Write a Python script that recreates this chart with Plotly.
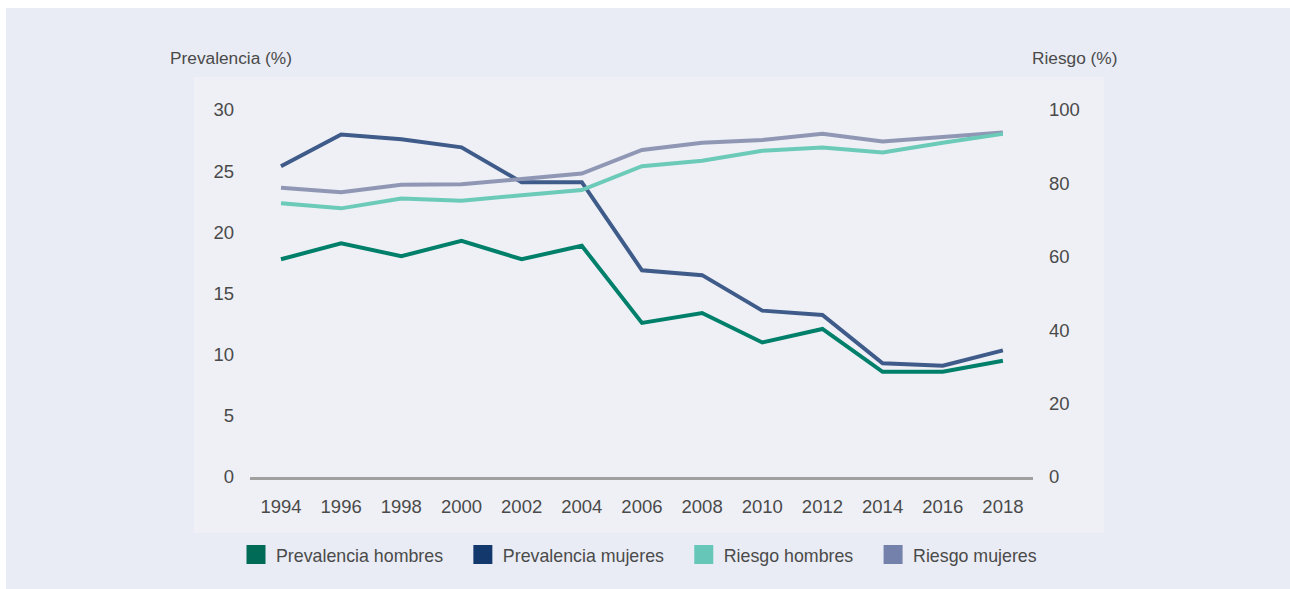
import plotly.graph_objects as go

years = [1994, 1996, 1998, 2000, 2002, 2004, 2006, 2008, 2010, 2012, 2014, 2016, 2018]
prev_hombres = [17.8, 19.1, 18.05, 19.3, 17.8, 18.9, 12.6, 13.4, 11.0, 12.1, 8.6, 8.6, 9.5]
prev_mujeres = [25.4, 28.0, 27.6, 26.95, 24.1, 24.1, 16.9, 16.5, 13.6, 13.25, 9.3, 9.1, 10.35]
riesgo_hombres = [74.6, 73.2, 75.9, 75.3, 76.8, 78.2, 84.7, 86.2, 88.9, 89.8, 88.4, 91.1, 93.5]
riesgo_mujeres = [78.8, 77.6, 79.6, 79.8, 81.2, 82.7, 89.1, 91.1, 91.8, 93.5, 91.4, 92.6, 93.9]

left_ticks = [0, 5, 10, 15, 20, 25, 30]
right_ticks = [0, 20, 40, 60, 80, 100]

names = ["Prevalencia hombres", "Prevalencia mujeres", "Riesgo hombres", "Riesgo mujeres"]
line_colors = ["#00806a", "#3e5b89", "#6ccab9", "#8f97b5"]
legend_colors = ["#006b57", "#12386c", "#66c6b8", "#7481ab"]

FONT = "Liberation Sans, Arial, sans-serif"
TXT = "#4a4a4a"

# plot area in pixels
W, H = 1290, 589
L, R, T, B = 250, 1033, 110, 477

def px(x):
    return (x - L) / (R - L)

def py(y):
    return (B - y) / (B - T)

fig = go.Figure()

series = [(prev_hombres, "y"), (prev_mujeres, "y"), (riesgo_hombres, "y2"), (riesgo_mujeres, "y2")]
order = [3, 2, 0, 1]
for i in order:
    vals, ax = series[i]
    fig.add_trace(go.Scatter(
        x=years, y=vals, yaxis=ax, mode="lines", name=names[i],
        line=dict(color=line_colors[i], width=4), showlegend=False,
        hoverinfo="skip"))

# legend entries
for i in range(4):
    fig.add_trace(go.Scatter(
        x=[None], y=[None], mode="markers", name=names[i] + "\u00a0\u00a0\u00a0",
        marker=dict(symbol="square", size=16, color=legend_colors[i],
                    line=dict(color=legend_colors[i], width=3)),
        showlegend=True))

fig.update_layout(
    width=W, height=H,
    margin=dict(l=L, r=W - R, t=T, b=H - B, pad=0),
    paper_bgcolor="#ffffff",
    plot_bgcolor="rgba(0,0,0,0)",
    font=dict(family=FONT, size=17, color=TXT),
    showlegend=True,
    legend=dict(orientation="h", x=px(236), xanchor="left", y=py(555), yanchor="middle",
                bgcolor="rgba(0,0,0,0)", font=dict(size=17.8, color=TXT),
                itemclick=False),
    xaxis=dict(range=[1992.97, 2019.0], tickvals=years, ticktext=[str(y) for y in years],
               showgrid=False, zeroline=False, showline=True, linecolor="#a0a0a0", linewidth=2.5,
               ticks="", ticklabelstandoff=11, tickfont=dict(size=18.5, color=TXT)),
    yaxis=dict(range=[0, 30], tickvals=left_ticks, showgrid=False, zeroline=False, showline=False,
               ticks="", ticklabelstandoff=15, tickfont=dict(size=18.5, color=TXT)),
    yaxis2=dict(range=[0, 100], tickvals=right_ticks, overlaying="y", side="right",
                showgrid=False, zeroline=False, showline=False, ticks="", ticklabelstandoff=15,
                tickfont=dict(size=18.5, color=TXT)),
    shapes=[
        dict(type="rect", xref="paper", yref="paper", x0=px(6), x1=px(1290), y0=py(8), y1=py(589),
             fillcolor="#e9ecf4", line=dict(width=0), layer="below"),
        dict(type="rect", xref="paper", yref="paper", x0=px(194), x1=px(1104), y0=py(77), y1=py(533),
             fillcolor="#eef0f5", line=dict(width=0), layer="below"),
    ],
    annotations=[
        dict(text="Prevalencia (%)", xref="paper", yref="paper", x=px(168), y=py(58),
             xanchor="left", yanchor="middle", showarrow=False, font=dict(size=17.3, color=TXT)),
        dict(text="Riesgo (%)", xref="paper", yref="paper", x=px(1119), y=py(58),
             xanchor="right", yanchor="middle", showarrow=False, font=dict(size=17.3, color=TXT)),
    ],
)

fig.write_html("out.html", config={"displayModeBar": False},
               post_script="document.body.style.margin='0';document.body.style.overflow='hidden';")
